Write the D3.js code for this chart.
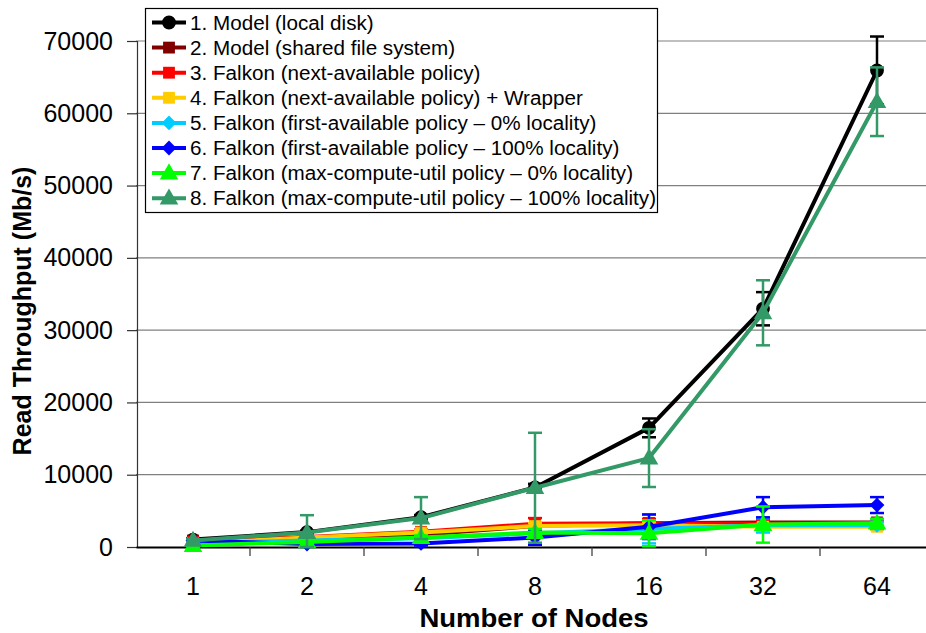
<!DOCTYPE html>
<html>
<head>
<meta charset="utf-8">
<script src="https://cdn.jsdelivr.net/npm/d3@7"></script>
<style>
  body { margin: 0; background: #fff; }
  svg { display: block; font-family: "Liberation Sans", Arial, sans-serif; }
</style>
</head>
<body>
<svg id="chart" width="926" height="633"></svg>
<script>
const nodes = ["1", "2", "4", "8", "16", "32", "64"]
const yTicks = [0, 10000, 20000, 30000, 40000, 50000, 60000, 70000]

const labels = [
  "1. Model (local disk)",
  "2. Model (shared file system)",
  "3. Falkon (next-available policy)",
  "4. Falkon (next-available policy) + Wrapper",
  "5. Falkon (first-available policy \u2013 0% locality)",
  "6. Falkon (first-available policy \u2013 100% locality)",
  "7. Falkon (max-compute-util policy \u2013 0% locality)",
  "8. Falkon (max-compute-util policy \u2013 100% locality)",
]
const colors = ["#000000", "#800000", "#ff0000", "#ffcc00", "#00ccff", "#0000ff", "#00ff00", "#339966"]
const shapes = ["circle", "square", "square", "square", "diamond", "diamond", "triangle", "triangle"]

// read throughput (Mb/s) per node count, one array per series
const modelLocal = [1030, 2060, 4120, 8240, 16480, 32960, 65920]
const modelShared = [900, 1300, 1700, 2900, 3300, 3400, 3400]
const nextAvail = [700, 1400, 2100, 3200, 3300, 3200, 3300]
const nextAvailWrap = [500, 1300, 2000, 2900, 3000, 2800, 2800]
const firstAvail0 = [500, 900, 1200, 1900, 2500, 3000, 3000]
const firstAvail100 = [900, 400, 500, 1300, 2800, 5500, 5800]
const maxCompute0 = [200, 700, 1300, 2000, 1900, 3100, 3300]
const maxCompute100 = [900, 2000, 4000, 8200, 12300, 32400, 61600]

// error bar half-widths
const errLocal = [100, 200, 300, 500, 1300, 2300, 4700]
const errShared = [100, 100, 200, 300, 300, 300, 300]
const errNext = [100, 200, 300, 800, 600, 400, 400]
const errNextWrap = [100, 200, 300, 400, 400, 400, 400]
const errFirst0 = [100, 200, 300, 400, 2000, 1000, 500]
const errFirst100 = [100, 300, 300, 1000, 1700, 1400, 1100]
const errMax0 = [100, 300, 300, 500, 1800, 2500, 600]
const errMax100 = [200, 2400, 2900, 7600, 4000, 4500, 4750]

const values = [modelLocal, modelShared, nextAvail, nextAvailWrap, firstAvail0, firstAvail100, maxCompute0, maxCompute100]
const errors = [errLocal, errShared, errNext, errNextWrap, errFirst0, errFirst100, errMax0, errMax100]

const series = labels.map((label, i) => ({
  label,
  color: colors[i],
  shape: shapes[i],
  points: nodes.map((n, j) => ({ n, v: values[i][j], e: errors[i][j] })),
}))

const svg = d3.select("#chart")

const x = d3.scaleBand().domain(nodes).range([136, 934]).padding(0)
const cx = (n) => x(n) + x.bandwidth() / 2
const y = d3.scaleLinear().domain([0, 70000]).range([547, 41])

// gridlines
svg.append("g")
  .selectAll("line")
  .data(yTicks.filter((d) => d > 0))
  .join("line")
  .attr("x1", 136).attr("x2", 934)
  .attr("y1", (d) => y(d)).attr("y2", (d) => y(d))
  .attr("stroke", "#808080").attr("stroke-width", 1.2)

// y axis
const yAxis = svg.append("g")
  .attr("transform", "translate(137,0)")
  .call(d3.axisLeft(y).tickValues(yTicks).tickSize(10).tickPadding(14).tickFormat(d3.format("d")))
yAxis.select(".domain").attr("stroke", "#333").attr("stroke-width", 1.2)
yAxis.selectAll(".tick line").attr("stroke", "#333").attr("stroke-width", 1.2)
yAxis.selectAll("text")
  .attr("font-size", 25).attr("fill", "#000")
  .attr("font-family", "Liberation Sans, Arial, sans-serif")

// x axis
const xAxis = svg.append("g")
  .attr("transform", "translate(0,547)")
  .call(d3.axisBottom(x).tickSize(0).tickPadding(30))
xAxis.select(".domain").attr("stroke", "#000").attr("stroke-width", 2)
xAxis.selectAll("text")
  .attr("font-size", 25).attr("fill", "#000")
  .attr("font-family", "Liberation Sans, Arial, sans-serif")
// ticks at category boundaries
svg.append("g")
  .selectAll("line")
  .data(nodes.slice(1))
  .join("line")
  .attr("x1", (d) => x(d)).attr("x2", (d) => x(d))
  .attr("y1", 547).attr("y2", 556)
  .attr("stroke", "#333").attr("stroke-width", 1.2)

// axis titles
svg.append("text")
  .attr("transform", "translate(31,311) rotate(-90)")
  .attr("text-anchor", "middle")
  .attr("font-size", 25).attr("font-weight", "bold")
  .text("Read Throughput (Mb/s)")

svg.append("g")
  .attr("transform", "translate(534,627)")
  .append("text")
  .attr("transform", "scale(1.1,1)")
  .attr("text-anchor", "middle")
  .attr("font-size", 25).attr("font-weight", "bold")
  .text("Number of Nodes")

// marker helper
function symbolPath(shape) {
  if (shape === "circle") return d3.symbol(d3.symbolCircle, 150)()
  if (shape === "square") return d3.symbol(d3.symbolSquare, 140)()
  if (shape === "diamond") return d3.symbol(d3.symbolSquare, 110)()
  return d3.symbol(d3.symbolTriangle, 150)()
}
function markerTransform(shape, px, py) {
  if (shape === "diamond") return `translate(${px},${py}) rotate(45)`
  if (shape === "triangle") return `translate(${px},${py + 1})`
  return `translate(${px},${py})`
}

const line = d3.line().x((d) => cx(d.n)).y((d) => y(d.v))

// series
series.forEach((s) => {
  const g = svg.append("g")
  // error bars
  const eb = g.selectAll(".err").data(s.points).join("g").attr("class", "err")
  eb.append("line")
    .attr("x1", (d) => cx(d.n)).attr("x2", (d) => cx(d.n))
    .attr("y1", (d) => y(Math.max(0, d.v - d.e))).attr("y2", (d) => y(d.v + d.e))
    .attr("stroke", s.color).attr("stroke-width", 2.5)
  eb.selectAll(".cap")
    .data((d) => [Math.max(0, d.v - d.e), d.v + d.e].map((v) => ({ n: d.n, v })))
    .join("line")
    .attr("class", "cap")
    .attr("x1", (d) => cx(d.n) - 7).attr("x2", (d) => cx(d.n) + 7)
    .attr("y1", (d) => y(d.v)).attr("y2", (d) => y(d.v))
    .attr("stroke", s.color).attr("stroke-width", 2.5)
  // line
  g.append("path")
    .datum(s.points)
    .attr("d", line)
    .attr("fill", "none")
    .attr("stroke", s.color)
    .attr("stroke-width", 4)
    .attr("stroke-linejoin", "round")
  // markers
  g.selectAll(".mk")
    .data(s.points)
    .join("path")
    .attr("class", "mk")
    .attr("d", symbolPath(s.shape))
    .attr("transform", (d) => markerTransform(s.shape, cx(d.n), y(d.v)))
    .attr("fill", s.color)
})

// legend
const legend = svg.append("g")
legend.append("rect")
  .attr("x", 145.5).attr("y", 8.5)
  .attr("width", 512).attr("height", 204)
  .attr("fill", "#fff").attr("stroke", "#000").attr("stroke-width", 1.2)

const rows = legend.selectAll(".row")
  .data(series)
  .join("g")
  .attr("class", "row")
  .attr("transform", (d, i) => `translate(0,${22.5 + i * 25.1})`)
rows.append("line")
  .attr("x1", 152).attr("x2", 186)
  .attr("stroke", (d) => d.color).attr("stroke-width", 4)
rows.append("path")
  .attr("d", (d) => symbolPath(d.shape))
  .attr("transform", (d) => markerTransform(d.shape, 169, 0))
  .attr("fill", (d) => d.color)
rows.append("g")
  .attr("transform", "translate(190,7)")
  .append("text")
  .attr("transform", "scale(1.06,1)")
  .attr("font-size", 19.5)
  .attr("fill", "#000")
  .text((d) => d.label)
</script>
</body>
</html>
